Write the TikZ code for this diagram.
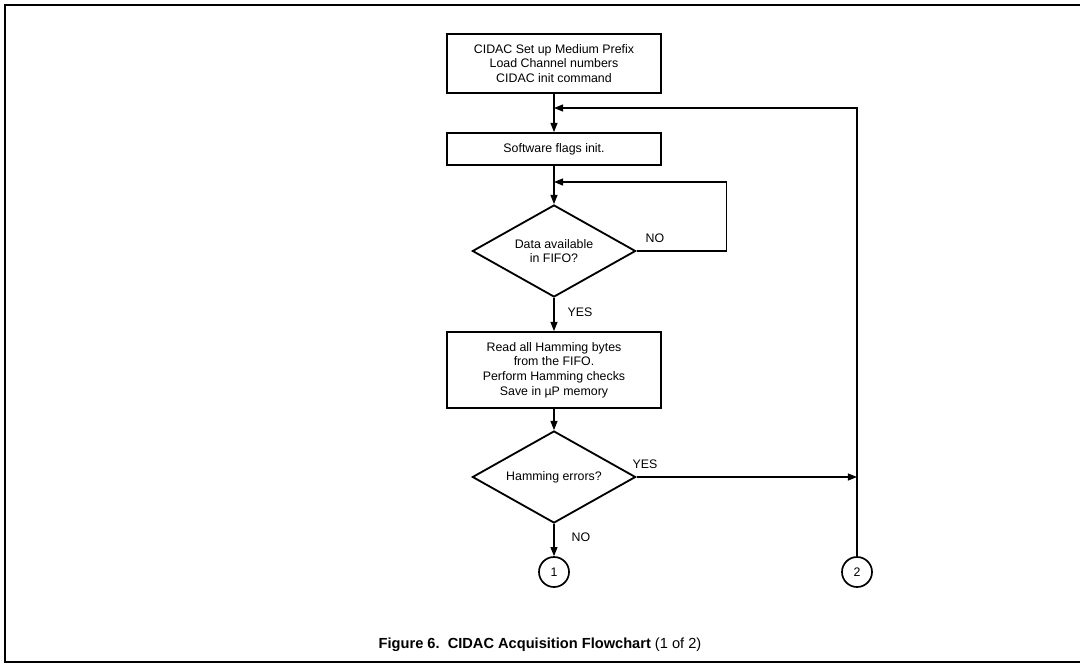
\documentclass[tikz,border=0pt]{standalone}
\usepackage{fontspec}
\setmainfont{Liberation Sans}
\usepackage{tikz}
\usetikzlibrary{arrows.meta,shapes.geometric,positioning,calc}

\begin{document}
\begin{tikzpicture}[
  x=0.025cm,y=-0.025cm,
  every node/.style={font=\fontsize{8.8}{10.5}\selectfont},
  procbox/.style={draw,line width=1.3pt,minimum width=5.33cm,align=center,inner sep=2pt},
  decision/.style={draw,line width=1.3pt,shape=diamond,aspect=1.77,inner sep=0pt,
                   minimum width=4.08cm,minimum height=2.3cm,align=center},
  joint/.style={draw,line width=1.2pt,circle,minimum size=0.75cm,inner sep=0pt},
  lbl/.style={inner sep=0pt},
  arr/.style={-{Triangle[length=6.5pt,width=5pt]},line width=0.8pt},
]
\useasboundingbox (0,0) rectangle (1080,664);

%% ── Page frame and caption ─────────────────────────────────────────────
\draw[line width=1.6pt] (1080,5) -- (5,5) -- (5,662) -- (1080,662);
\node[font=\fontsize{10.4}{12}\selectfont] (caption) at (540,645)
  {\textbf{Figure 6.\ \ CIDAC Acquisition Flowchart} (1 of 2)};

%% ── Main column ────────────────────────────────────────────────────────
\node[procbox,minimum height=1.48cm] (setup) at (554,63.5)
  {CIDAC Set up Medium Prefix\\Load Channel numbers\\CIDAC init command};
\node[procbox,minimum height=0.8cm] (flags) at (554,149) {Software flags init.};
\node[decision] (avail) at (554,251) {Data available\\in FIFO?};
\node[procbox,minimum height=1.9cm] (readbox) at (554,370)
  {Read all Hamming bytes\\from the FIFO.\\Perform Hamming checks\\Save in µP memory};
\node[decision] (errors) at (554,477) {Hamming errors?};
\node[joint] (conA) at (554,572) {1};
\node[joint] (conB) at (857,572) {2};

%% ── Junction points on the main line ───────────────────────────────────
\coordinate (jtop)  at (554,108);
\coordinate (jloop) at (554,182);

%% ── Connectors ─────────────────────────────────────────────────────────
\draw[arr] (setup.south) -- (flags.north);
\draw[arr] (flags.south) -- (avail.north);
\draw[arr] (avail.south) -- (readbox.north);
\draw[arr] (readbox.south) -- (errors.north);
\draw[arr] (errors.south) -- (conA.north);
\draw[arr] (avail.east) -- ++(90,0) |- (jloop);
\draw[arr] (errors.east) -- (errors.east -| conB);
\draw[arr] (conB.north) |- (jtop);

%% ── Branch labels ──────────────────────────────────────────────────────
\node[lbl] (noA)  at (655,238) {NO};
\node[lbl] (yesA) at (580,312) {YES};
\node[lbl] (yesB) at (645,464) {YES};
\node[lbl] (noB)  at (581,537) {NO};

\end{tikzpicture}
\end{document}
